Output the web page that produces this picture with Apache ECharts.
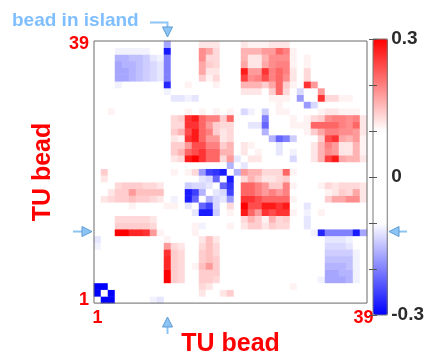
<!DOCTYPE html>
<html>
<head>
<meta charset="utf-8">
<script src="https://cdn.jsdelivr.net/npm/echarts@6/dist/echarts.min.js"></script>
<style>
html, body { margin: 0; padding: 0; background: #fff; }
#chart { width: 427px; height: 362px; }
</style>
</head>
<body>
<div id="chart"></div>
<script>
// bead numbers (x and y categories)
var beads = ['1','2','3','4','5','6','7','8','9','10','11','12','13','14','15','16','17','18','19','20',
             '21','22','23','24','25','26','27','28','29','30','31','32','33','34','35','36','37','38','39'];
var shownTicks = ['1', '39'];
var barTicks = [-0.3, 0, 0.3];
var islandBead = '11';

// correlation of bead j with beads 1..j-1 (matrix is symmetric, diagonal left blank)
var lowerTri = [
  [],
  [-.3],
  [-.3,-.3],
  [0,0,0],
  [0,0,0,0],
  [0,0,0,0,0],
  [0,0,0,0,0,0],
  [0,0,0,0,0,0,0],
  [-.11,0,0,0,0,0,0,0],
  [-.12,0,0,0,0,0,0,0,0],
  [0,0,0,.3,.3,.27,.27,.26,.18,.11],
  [0,0,0,.14,.14,.14,.14,.14,.13,0,0],
  [0,0,0,.13,.13,.13,.13,.13,.12,0,0,0],
  [0,0,0,0,0,0,0,0,0,0,0,0,0],
  [0,0,0,0,0,.11,0,0,0,0,.11,.11,0,-.12],
  [0,.12,.13,.14,.14,.15,.14,.14,.13,.12,0,-.11,0,-.28,-.22],
  [0,0,.12,.14,.14,.18,.15,.15,.15,.15,0,0,0,-.28,-.25,-.16],
  [0,0,0,.13,.14,.14,.14,.13,.13,.12,0,0,0,-.14,-.13,-.13,-.12],
  [0,.12,0,0,0,0,0,0,0,0,0,0,0,0,0,-.12,-.13,-.22],
  [0,.14,0,0,0,0,0,0,0,0,0,.11,0,.11,.13,-.18,-.25,-.26,-.28],
  [0,0,0,0,0,0,0,0,0,0,0,0,0,0,0,0,0,0,0,-.16],
  [0,0,0,0,0,0,0,0,0,0,0,.12,.13,.28,.3,.26,.22,.22,.13,.18,-.12],
  [0,0,0,0,0,0,0,0,0,0,0,.14,.16,.22,.24,.26,.22,.22,.16,.16,0,.12],
  [0,0,0,0,0,0,0,0,0,0,0,.14,.14,.18,.24,.24,.2,.2,.14,.16,0,.12,.11],
  [0,0,0,0,0,0,0,0,0,0,0,.12,.11,.26,.28,.22,.18,.18,.12,.13,0,0,0,0],
  [0,0,0,0,0,0,0,0,0,0,0,.14,.16,.24,.28,.22,.2,.14,.12,.13,0,0,0,0,-.16],
  [0,0,0,0,0,0,0,0,0,0,0,.13,.13,.26,.26,.22,.18,.14,.13,.13,0,0,-.12,-.12,-.22,0],
  [0,0,0,0,0,0,0,0,0,0,0,.13,.14,.26,.28,.22,.2,.2,.14,.22,0,0,0,0,-.2,0,0],
  [0,0,.11,0,0,0,0,0,0,0,0,0,0,.11,0,.11,0,.11,0,.11,0,-.13,-.11,0,-.14,0,.11,.11],
  [0,0,0,0,0,0,0,0,0,0,0,0,0,0,0,0,0,0,0,0,0,0,0,0,0,0,.11,0,0],
  [0,0,0,0,0,0,0,0,0,0,0,-.12,-.12,-.11,-.12,0,0,0,0,0,0,0,0,0,0,.11,.11,.11,0,-.18],
  [0,0,0,0,0,0,0,0,0,0,-.11,0,0,0,0,0,0,0,0,0,0,.12,.12,.12,0,.14,.22,.13,0,-.13,0],
  [0,0,0,-.11,0,0,0,0,0,0,-.27,0,0,.11,0,0,0,.11,0,0,0,.16,.16,.16,.14,.17,.22,.14,.11,0,.26,.18],
  [0,0,0,-.17,-.17,-.16,-.15,-.14,-.13,-.12,-.2,0,0,0,0,.14,.11,.13,0,0,0,.25,.19,.2,.24,.2,.22,.19,.12,0,.13,0,0],
  [0,0,0,-.17,-.17,-.16,-.15,-.14,-.13,-.12,-.2,0,0,0,0,.17,.12,.12,0,0,0,.28,.18,.18,.26,.2,.22,.2,.12,0,.13,0,0,0],
  [0,0,0,-.17,-.16,-.16,-.15,-.14,-.13,-.12,-.2,0,0,0,0,.17,.14,.13,0,0,0,.17,.12,.12,.17,.19,.2,.2,.11,0,.11,0,0,0,0],
  [0,0,0,-.16,-.16,-.15,-.15,-.14,-.12,-.11,-.2,0,0,0,0,.19,.13,.13,0,0,0,.16,.12,.12,.16,.19,.19,.19,.11,0,.11,0,0,0,0,0],
  [0,0,0,-.11,-.11,-.11,-.11,-.11,0,0,-.28,0,0,0,0,.19,.17,.13,0,0,0,.16,.16,.16,.18,.18,.22,.2,.11,0,0,0,0,0,0,0,0],
  [0,0,0,0,0,0,0,0,0,0,-.17,0,0,0,0,.12,.12,.12,0,0,0,.12,.11,.11,.11,.12,.12,.12,0,0,0,0,0,0,0,0,0,0]
];

var cells = [];
for (var j = 0; j < beads.length; j++) {
  for (var i = 0; i < beads.length; i++) {
    var v = i === j ? 0 : (i < j ? lowerTri[j][i] : lowerTri[i][j]);
    cells.push([i, j, v]);
  }
}

var red = '#ff0000';
var arrowBlue = '#8cc4f4';
var arrowEdge = '#5b9bd5';
var font = 'Liberation Sans, Arial, sans-serif';
var tickStyle = { color: '#555' };

var myChart = echarts.init(document.getElementById('chart'));
var option = {
  animation: false,
  textStyle: { fontFamily: font },
  grid: [
    { left: 94, top: 41, width: 273, height: 273, show: true, z: 10,
      backgroundColor: 'transparent', borderColor: '#6b6b6b', borderWidth: 1 },
    { left: 373, top: 39, width: 15, height: 276, show: true, z: 10,
      backgroundColor: 'transparent', borderColor: '#777', borderWidth: 1 }
  ],
  xAxis: [
    { type: 'category', data: beads, gridIndex: 0,
      axisLine: { show: false }, axisTick: { show: false }, splitLine: { show: false },
      axisLabel: { interval: 0, margin: 6, color: red, fontWeight: 'bold', fontSize: 18,
        formatter: function (v) { return shownTicks.indexOf(v) >= 0 ? v : ''; } },
      name: 'TU bead', nameLocation: 'middle', nameGap: 22,
      nameTextStyle: { color: red, fontWeight: 'bold', fontSize: 25 } },
    { type: 'value', gridIndex: 1, show: false, min: 0, max: 1 }
  ],
  yAxis: [
    { type: 'category', data: beads, gridIndex: 0,
      axisLine: { show: false }, axisTick: { show: false }, splitLine: { show: false },
      axisLabel: { interval: 0, margin: 5, color: red, fontWeight: 'bold', fontSize: 18,
        formatter: function (v) { return shownTicks.indexOf(v) >= 0 ? v : ''; } },
      name: 'TU bead', nameLocation: 'middle', nameGap: 38, nameRotate: 90,
      nameTextStyle: { color: red, fontWeight: 'bold', fontSize: 25 } },
    { type: 'value', gridIndex: 1, position: 'right', z: 12,
      min: barTicks[0], max: barTicks[2], interval: 0.3,
      axisLine: { show: false }, splitLine: { show: false },
      axisTick: { show: true, inside: true, length: 4, lineStyle: tickStyle },
      minorTick: { show: true, splitNumber: 3, length: 4, lineStyle: tickStyle },
      axisLabel: { margin: 4, color: '#2b2b2b', fontWeight: 'bold', fontSize: 19 } },
    { type: 'value', gridIndex: 1, position: 'left', z: 12,
      min: barTicks[0], max: barTicks[2], interval: 0.3,
      axisLine: { show: false }, splitLine: { show: false }, axisLabel: { show: false },
      axisTick: { show: true, inside: true, length: 4, lineStyle: tickStyle },
      minorTick: { show: true, splitNumber: 3, length: 4, lineStyle: tickStyle } }
  ],
  visualMap: {
    type: 'continuous', min: barTicks[0], max: barTicks[2], seriesIndex: 0,
    calculable: false, hoverLink: false, orient: 'vertical',
    left: 373, top: 39, itemWidth: 15, itemHeight: 276, padding: 0,
    inRange: { color: ['#0000ff', '#4040ff', '#8080ff', '#c0c0ff', '#ffffff', '#ffffff', '#ffffff',
                       '#ffffff', '#ffffff', '#ffc0c0', '#ff8080', '#ff4040', '#ff0000'] }
  },
  series: [{
    type: 'heatmap', xAxisIndex: 0, yAxisIndex: 0, data: cells,
    itemStyle: { borderWidth: 0 }, emphasis: { disabled: true }, progressive: 0
  }]
};
myChart.setOption(option);

// arrows pointing at the island bead row/column
var k = beads.indexOf(islandBead);
var c = myChart.convertToPixel({ xAxisIndex: 0, yAxisIndex: 0 }, [k, k]);
var cx = c[0], cy = c[1] - 1;
var lineStyle = { stroke: arrowBlue, lineWidth: 2 };
var triStyle = { fill: arrowBlue, stroke: arrowEdge, lineWidth: 1 };
myChart.setOption({
  graphic: [
    { type: 'text', left: 12, top: 11, style: { text: 'bead in island', fill: '#80bfff', font: 'bold 19px ' + font } },
    { type: 'polyline', shape: { points: [[150, 22.5], [cx, 22.5], [cx, 29]] }, style: lineStyle },
    { type: 'polygon', shape: { points: [[cx - 5, 27], [cx + 5, 27], [cx, 37]] }, style: triStyle },
    { type: 'line', shape: { x1: 73, y1: cy, x2: 83, y2: cy }, style: lineStyle },
    { type: 'polygon', shape: { points: [[82, cy - 5], [82, cy + 5], [92, cy]] }, style: triStyle },
    { type: 'line', shape: { x1: cx, y1: 326, x2: cx, y2: 334 }, style: lineStyle },
    { type: 'polygon', shape: { points: [[cx - 5, 327], [cx + 5, 327], [cx, 317]] }, style: triStyle },
    { type: 'line', shape: { x1: 398, y1: cy, x2: 407, y2: cy }, style: lineStyle },
    { type: 'polygon', shape: { points: [[399, cy - 5], [399, cy + 5], [389, cy]] }, style: triStyle }
  ]
});
</script>
</body>
</html>
